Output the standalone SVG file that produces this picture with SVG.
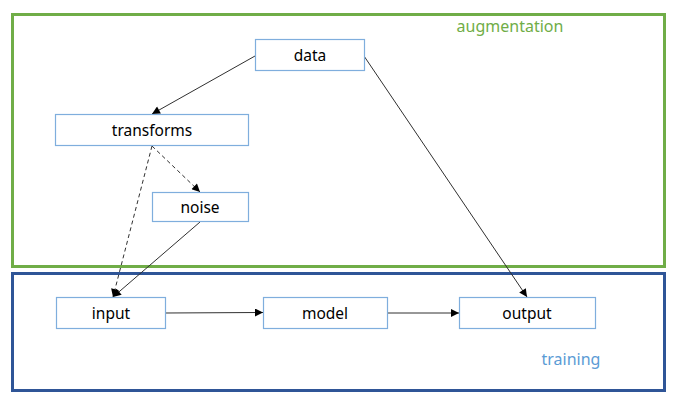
<svg xmlns="http://www.w3.org/2000/svg" width="678" height="412" viewBox="0 0 678 412">
<style>
.node rect{fill:#fff;stroke:#7FAEDD;stroke-width:1.2}
.node text{font-family:"Noto Sans","Open Sans",sans-serif;font-size:15.5px;fill:#000;text-anchor:middle}
.edge{stroke:#303030;stroke-width:1;fill:none;marker-end:url(#arr)}
.dash{stroke-dasharray:4,3}
.lbl{font-family:"Noto Sans","Open Sans",sans-serif;font-size:16px}
</style>
<defs>
<marker id="arr" viewBox="0 0 10 10" refX="10" refY="5" markerWidth="10" markerHeight="8" markerUnits="userSpaceOnUse" orient="auto">
<path d="M0,0 L10,5 L0,10 z" fill="#000"/>
</marker>
</defs>
<rect width="678" height="412" fill="#fff"/>
<g id="augmentation">
<rect x="12.5" y="14.5" width="652" height="252" fill="none" stroke="#70AD47" stroke-width="3"/>
<text class="lbl" x="510" y="32" text-anchor="middle" fill="#70AD47">augmentation</text>
</g>
<g id="training">
<rect x="12.5" y="273.5" width="652" height="117" fill="none" stroke="#2F5597" stroke-width="3"/>
<text class="lbl" x="571" y="365" text-anchor="middle" fill="#5B9BD5">training</text>
</g>
<g id="connectors">
<line class="edge" x1="255" y1="56" x2="152" y2="114"/>
<line class="edge" x1="364" y1="56" x2="527" y2="297"/>
<line class="edge dash" x1="152" y1="146" x2="200" y2="192"/>
<line class="edge dash" x1="152" y1="146" x2="113" y2="297"/>
<line class="edge" x1="200" y1="222" x2="113" y2="297"/>
<line class="edge" x1="165" y1="313" x2="263" y2="312.5"/>
<line class="edge" x1="387" y1="313" x2="459" y2="313"/>
</g>
<g id="data" class="node"><rect x="255.5" y="39.5" width="109" height="31"/><text x="310" y="61">data</text></g>
<g id="transforms" class="node"><rect x="55.5" y="114.5" width="193" height="31"/><text x="152" y="136">transforms</text></g>
<g id="noise" class="node"><rect x="152.5" y="192.5" width="96" height="29"/><text x="200" y="213">noise</text></g>
<g id="input" class="node"><rect x="56.5" y="297.5" width="109" height="31"/><text x="111" y="319">input</text></g>
<g id="model" class="node"><rect x="263.5" y="297.5" width="124" height="31"/><text x="325" y="319">model</text></g>
<g id="output" class="node"><rect x="459.5" y="297.5" width="136" height="31"/><text x="527" y="319">output</text></g>
</svg>
